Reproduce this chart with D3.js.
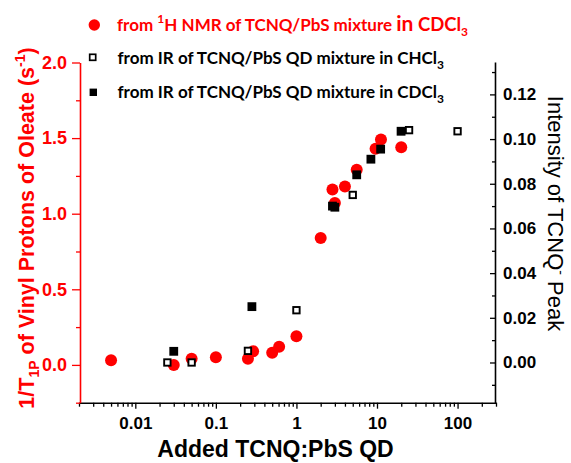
<!DOCTYPE html>
<html>
<head>
<meta charset="utf-8">
<script src="https://d3js.org/d3.v7.min.js"></script>
<style>
  body { margin: 0; background: #fff; }
  svg { display: block; }
  .tick text { font-family: Arial, "Liberation Sans", sans-serif; font-weight: bold; font-size: 17px; }
</style>
</head>
<body>
<svg id="chart" width="571" height="463"></svg>
<script>
// ---- data ----
// 1/T1P from 1H NMR (left axis, s^-1)
var nmrX = [0.005, 0.03, 0.05, 0.1, 0.25, 0.29, 0.5, 0.61, 1.0, 2.0, 2.8, 3.0, 4.0, 5.6, 9.6, 11.2, 20];
var nmrY = [0.03, 0.0, 0.04, 0.05, 0.04, 0.09, 0.08, 0.12, 0.19, 0.84, 1.16, 1.07, 1.18, 1.29, 1.43, 1.49, 1.44];
// IR intensity in CHCl3 (right axis, open squares)
var irChX = [0.025, 0.05, 0.25, 1.0, 5.0, 25, 100];
var irChY = [0.0, 0.0, 0.0052, 0.0234, 0.075, 0.104, 0.1035];
// IR intensity in CDCl3 (right axis, filled squares)
var irCdX = [0.03, 0.28, 2.8, 3.0, 5.6, 8.4, 11.1, 19.9];
var irCdY = [0.005, 0.025, 0.070, 0.0695, 0.084, 0.091, 0.0955, 0.1035];

var xMajor = [0.01, 0.1, 1, 10, 100];
var yLeftTicks = [0.0, 0.5, 1.0, 1.5, 2.0];
var yRightTicks = [0.00, 0.02, 0.04, 0.06, 0.08, 0.10, 0.12];

var RED = "#ff0000";
var svg = d3.select("#chart");

var x = d3.scaleLog().domain([0.002, 300]).range([79, 496]);
var yL = d3.scaleLinear().domain([-0.25, 2.0]).range([402.7, 62.5]);
var yR = d3.scaleLinear().domain([-0.018, 0.1345]).range([402.7, 62]);

// minor tick lists
var xMinor = [];
for (var e = -3; e <= 2; e++) {
  for (var m = 2; m <= 9; m++) {
    var v = m * Math.pow(10, e);
    if (v >= 0.002 && v <= 300) xMinor.push(+v.toPrecision(3));
  }
}
var yLeftMinor = d3.range(-0.25, 2.01, 0.25).filter(function (d) { return Math.abs(d * 2 - Math.round(d * 2)) > 0.01; });
var yRightMinor = d3.range(-0.01, 0.135, 0.02).map(function (d) { return +d.toFixed(3); });

// ---- bottom axis ----
svg.append("g")
  .attr("transform", "translate(0,402.7)")
  .call(d3.axisBottom(x).tickValues(xMinor).tickFormat("").tickSize(4).tickSizeOuter(0))
  .call(function (g) { g.select(".domain").remove(); })
  .selectAll("line").attr("stroke", "#000").attr("stroke-width", 1.3);
svg.append("g")
  .attr("transform", "translate(0,402.7)")
  .call(d3.axisBottom(x).tickValues(xMajor).tickFormat(d3.format("~g")).tickSize(6).tickSizeOuter(0).tickPadding(8))
  .call(function (g) {
    g.select(".domain").attr("stroke-width", 1.6);
    g.selectAll("line").attr("stroke-width", 1.3);
    g.selectAll("text").attr("fill", "#000");
  });

// ---- left axis (red) ----
svg.append("g")
  .attr("transform", "translate(80,0)")
  .call(d3.axisLeft(yL).tickValues(yLeftMinor).tickFormat("").tickSize(4).tickSizeOuter(0))
  .call(function (g) { g.select(".domain").remove(); })
  .selectAll("line").attr("stroke", RED).attr("stroke-width", 1.3);
svg.append("g")
  .attr("transform", "translate(80,0)")
  .call(d3.axisLeft(yL).tickValues(yLeftTicks).tickFormat(d3.format(".1f")).tickSize(8).tickSizeOuter(0).tickPadding(5))
  .call(function (g) {
    g.select(".domain").attr("stroke", RED).attr("stroke-width", 1.6);
    g.selectAll("line").attr("stroke", RED).attr("stroke-width", 1.3);
    g.selectAll("text").attr("fill", RED).style("font-size", "18px");
  });

// ---- right axis (ticks inward) ----
svg.append("g")
  .attr("transform", "translate(495,0)")
  .call(d3.axisLeft(yR).tickValues(yRightMinor).tickFormat("").tickSize(3).tickSizeOuter(0))
  .call(function (g) { g.select(".domain").remove(); })
  .selectAll("line").attr("stroke", "#000").attr("stroke-width", 1.3);
svg.append("g")
  .attr("transform", "translate(495,0)")
  .call(d3.axisLeft(yR).tickValues(yRightTicks).tickFormat(d3.format(".2f")).tickSize(5).tickSizeOuter(0))
  .call(function (g) {
    g.select(".domain").attr("stroke-width", 1.6);
    g.selectAll("line").attr("stroke-width", 1.3);
    g.selectAll("text").attr("fill", "#000").attr("text-anchor", "start").attr("x", 8);
  });

// ---- marks ----
svg.append("g").selectAll("circle")
  .data(nmrX)
  .enter().append("circle")
  .attr("cx", function (d) { return x(d); })
  .attr("cy", function (d, i) { return yL(nmrY[i]); })
  .attr("r", 6)
  .attr("fill", RED);

svg.append("g").selectAll("rect")
  .data(irChX)
  .enter().append("rect")
  .attr("x", function (d) { return x(d) - 3.2; })
  .attr("y", function (d, i) { return yR(irChY[i]) - 3.2; })
  .attr("width", 6.4).attr("height", 6.4)
  .attr("fill", "#fff").attr("stroke", "#000").attr("stroke-width", 1.9);

svg.append("g").selectAll("rect")
  .data(irCdX)
  .enter().append("rect")
  .attr("x", function (d) { return x(d) - 4.4; })
  .attr("y", function (d, i) { return yR(irCdY[i]) - 4.4; })
  .attr("width", 8.8).attr("height", 8.8)
  .attr("fill", "#000");

// ---- legend ----
var legFont = "Lato, 'Open Sans', sans-serif";
svg.append("circle").attr("cx", 94.3).attr("cy", 25).attr("r", 5.7).attr("fill", RED);
var t1 = svg.append("text").attr("x", 117).attr("y", 30.5).attr("fill", RED)
  .attr("font-family", legFont).attr("font-size", 17).attr("font-weight", "bold");
t1.append("tspan").text("from ");
t1.append("tspan").attr("font-size", 12).attr("dy", -8).text("1");
t1.append("tspan").attr("dy", 8).text("H NMR of TCNQ/PbS mixture ");
t1.append("tspan").attr("font-size", 21).text("in");
t1.append("tspan").attr("font-size", 18.5).text(" CDCl");
t1.append("tspan").attr("font-size", 12).attr("dy", 5).text("3");

svg.append("rect").attr("x", 89.7).attr("y", 54.3).attr("width", 6).attr("height", 6)
  .attr("fill", "#fff").attr("stroke", "#000").attr("stroke-width", 1.7);
var t2 = svg.append("text").attr("x", 117.5).attr("y", 63.5).attr("fill", "#000")
  .attr("font-family", legFont).attr("font-size", 17).attr("font-weight", "bold");
t2.append("tspan").text("from IR of TCNQ/PbS QD mixture in CHCl");
t2.append("tspan").attr("font-size", 12).attr("dy", 5).text("3");

svg.append("rect").attr("x", 89.6).attr("y", 88.6).attr("width", 7.4).attr("height", 7.4).attr("fill", "#000");
var t3 = svg.append("text").attr("x", 117.5).attr("y", 97.8).attr("fill", "#000")
  .attr("font-family", legFont).attr("font-size", 17).attr("font-weight", "bold");
t3.append("tspan").text("from IR of TCNQ/PbS QD mixture in CDCl");
t3.append("tspan").attr("font-size", 12).attr("dy", 5).text("3");

// ---- axis titles ----
var axFont = "Arial, 'Liberation Sans', sans-serif";
svg.append("text")
  .attr("x", 275.5).attr("y", 457)
  .attr("text-anchor", "middle")
  .attr("font-family", axFont).attr("font-size", 23).attr("font-weight", "bold")
  .text("Added TCNQ:PbS QD");

var yl = svg.append("text")
  .attr("transform", "translate(34,228) rotate(-90)")
  .attr("text-anchor", "middle").attr("fill", RED)
  .attr("font-family", axFont).attr("font-size", 21.5).attr("font-weight", "bold");
yl.append("tspan").text("1/T");
yl.append("tspan").attr("font-size", 14).attr("dy", 5).text("1P");
yl.append("tspan").attr("dy", -5).text(" of Vinyl Protons of Oleate (s");
yl.append("tspan").attr("font-size", 14).attr("dy", -9).text("-1");
yl.append("tspan").attr("dy", 9).text(")");

var yr = svg.append("text")
  .attr("transform", "translate(548,213.5) rotate(90)")
  .attr("text-anchor", "middle").attr("fill", "#000")
  .attr("font-family", axFont).attr("font-size", 22);
yr.append("tspan").text("Intensity of TCNQ");
yr.append("tspan").attr("font-size", 14).attr("dy", -8).text("-");
yr.append("tspan").attr("dy", 8).text(" Peak");
</script>
</body>
</html>
